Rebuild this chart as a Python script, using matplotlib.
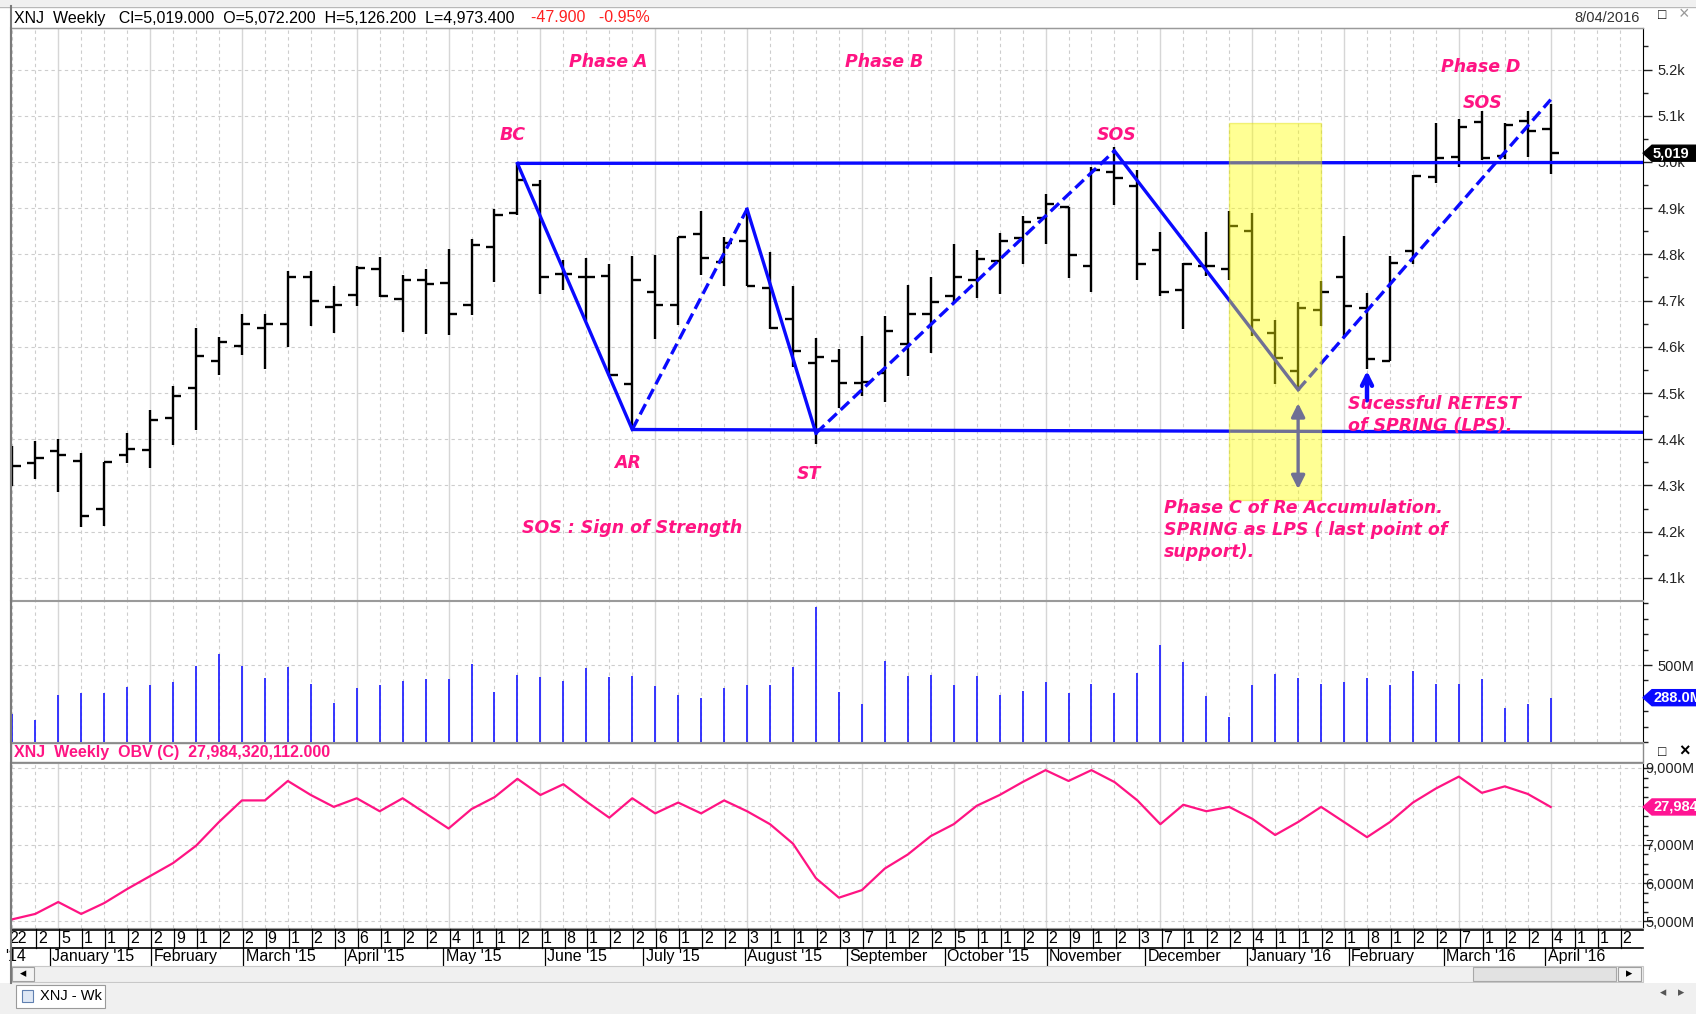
import numpy as np
import pandas as pd
import matplotlib
matplotlib.use("Agg")
import matplotlib.pyplot as plt
from matplotlib.patches import Rectangle, Polygon
from matplotlib.ticker import MultipleLocator, FixedLocator, FuncFormatter

plt.rcParams['font.family'] = ['Liberation Sans', 'DejaVu Sans']

W, H = 1696, 1014

# weekly bars of XNJ, first week starts 22 Dec 2014
week_start = "2014-12-22"
n_slots = 71   # weeks shown on the date axis

opens = [4360, 4348, 4374, 4353, 4248, 4365, 4376, 4445, 4511, 4570,
         4601, 4641, 4649, 4752, 4686, 4713, 4768, 4703, 4745, 4738,
         4691, 4815, 4889, 4950, 4758, 4751, 4754, 4520, 4719, 4691,
         4844, 4783, 4829, 4727, 4660, 4564, 4570, 4522, 4544, 4607,
         4672, 4711, 4745, 4785, 4835, 4878, 4902, 4775, 4979, 4949,
         4809, 4722, 4775, 4768, 4851, 4630, 4547, 4680, 4752, 4684,
         4569, 4808, 4968, 5010, 5086, 5012, 5088, 5072.2]
highs = [4385, 4397, 4400, 4371, 4350, 4414, 4463, 4515, 4641, 4621,
         4672, 4670, 4763, 4765, 4732, 4774, 4795, 4756, 4769, 4812,
         4833, 4898, 4997, 4961, 4788, 4793, 4780, 4797, 4799, 4837,
         4895, 4837, 4898, 4806, 4732, 4619, 4596, 4623, 4666, 4734,
         4751, 4822, 4810, 4846, 4883, 4930, 4902, 4990, 5033, 4983,
         4849, 4781, 4849, 4894, 4889, 4658, 4696, 4742, 4839, 4717,
         4797, 4972, 5085, 5094, 5110, 5085, 5110, 5126.2]
lows = [4299, 4313, 4286, 4211, 4212, 4349, 4338, 4387, 4420, 4539,
        4583, 4551, 4600, 4646, 4630, 4689, 4707, 4633, 4628, 4626,
        4668, 4740, 4886, 4715, 4722, 4655, 4536, 4421, 4616, 4648,
        4756, 4731, 4731, 4638, 4556, 4390, 4468, 4493, 4480, 4536,
        4587, 4694, 4705, 4715, 4780, 4823, 4749, 4718, 4907, 4745,
        4711, 4639, 4754, 4745, 4623, 4520, 4507, 4644, 4622, 4552,
        4569, 4780, 4955, 4990, 5004, 5006, 5010, 4973.4]
closes = [4342, 4360, 4365, 4234, 4350, 4378, 4441, 4493, 4581, 4611,
          4649, 4649, 4752, 4700, 4691, 4770, 4709, 4745, 4736, 4670,
          4820, 4886, 4961, 4752, 4758, 4751, 4538, 4745, 4691, 4837,
          4793, 4824, 4731, 4640, 4592, 4578, 4522, 4524, 4635, 4672,
          4696, 4752, 4790, 4828, 4871, 4909, 4799, 4983, 4966, 4780,
          4719, 4780, 4774, 4862, 4657, 4576, 4684, 4718, 4689, 4574,
          4781, 4970, 5008, 5076, 5009, 5080, 5066.9, 5019.0]

# weekly volume, millions
volume_m = [183, 141, 303, 317, 317, 359, 373, 387, 493, 570,
            493, 415, 486, 380, 253, 352, 373, 394, 408, 408,
            507, 324, 436, 422, 394, 479, 422, 429, 366, 303,
            289, 352, 373, 373, 486, 880, 324, 246, 528, 429,
            436, 373, 429, 303, 331, 387, 317, 380, 317, 451,
            627, 521, 296, 162, 373, 444, 415, 380, 387, 415,
            370, 460, 380, 380, 410, 218, 246, 288.0]

# on-balance volume, millions
obv_m = [25056, 25197, 25507, 25197, 25479, 25845, 26183, 26521, 26972, 27592,
         28155, 28155, 28662, 28296, 27986, 28211, 27873, 28211, 27817, 27423,
         27930, 28239, 28718, 28296, 28577, 28127, 27704, 28211, 27817, 28099,
         27817, 28155, 27873, 27535, 27028, 26127, 25620, 25817, 26380, 26746,
         27225, 27535, 28014, 28296, 28634, 28944, 28662, 28944, 28634, 28155,
         27535, 28042, 27873, 27986, 27676, 27254, 27592, 27986, 27592, 27197,
         27592, 28099, 28465, 28775, 28352, 28521, 28324, 27984.32]
obv_last = 27984320112.000

# Wyckoff sketch pivots (bar index, price)
pivot_x = [22, 27, 32, 35, 48, 56, 67]
pivot_y = [4997, 4421, 4898, 4413, 5024, 4507, 5135]
pivot_dashed = [False, True, False, True, False, True]
bc_level = [4997, 4999]
support_level = [4421, 4415]

month_labels = ["'14", "January '15", "February", "March '15", "April '15", "May '15",
                "June '15", "July '15", "August '15", "September", "October '15",
                "November", "December", "January '16", "February", "March '16", "April '16"]

weeks = pd.date_range(week_start, periods=n_slots, freq="W-MON")
month_starts = pd.date_range("2015-01-01", "2016-04-01", freq="MS")
x = np.arange(len(opens))

PINK = '#ff1483'
BLUE = '#0a0aff'

fig = plt.figure(figsize=(W / 100, H / 100), dpi=100)
fig.patch.set_facecolor('white')


def px_axes(x0, y0, x1, y1):
    return fig.add_axes([x0 / W, 1 - y1 / H, (x1 - x0) / W, (y1 - y0) / H])


def fig_rect(x0, y0, x1, y1, **kw):
    r = Rectangle((x0 / W, 1 - y1 / H), (x1 - x0) / W, (y1 - y0) / H,
                  transform=fig.transFigure, **kw)
    fig.add_artist(r)


def fig_text(xp, yp, s, **kw):
    fig.text(xp / W, 1 - yp / H, s, **kw)


def fig_line(xs, ys, **kw):
    fig.add_artist(plt.Line2D([v / W for v in xs], [1 - v / H for v in ys],
                              transform=fig.transFigure, **kw))


def value_box(ax, v, s, fc):
    ypx = H - ax.transData.transform((0, v))[1]
    pts = [(1643, ypx), (1652, ypx - 8), (1700, ypx - 8), (1700, ypx + 8), (1652, ypx + 8)]
    fig.add_artist(Polygon([(a / W, 1 - b / H) for a, b in pts], closed=True,
                           transform=fig.transFigure, fc=fc, ec=fc, zorder=10))
    fig_text(1653, ypx, s, color='white', fontsize=10.5, va='center', ha='left',
             fontweight='bold', zorder=11)


XL = (-0.057, 71.02)
month_first = [i for i in range(1, n_slots) if weeks[i].month != weeks[i - 1].month]


def vgrid(ax):
    for i in range(n_slots):
        if i in month_first:
            ax.axvline(i, color='#d6d6d6', lw=1.0, zorder=0)
        else:
            ax.axvline(i, color='#cdcdcd', lw=0.8, ls=(0, (3, 3)), zorder=0)


def style_panel(ax):
    ax.set_xlim(*XL)
    ax.set_xticks([])
    ax.yaxis.tick_right()
    for s in ['top', 'bottom']:
        ax.spines[s].set_color('#9a9a9a')
    ax.spines['left'].set_color('#7a7a7a')
    ax.spines['left'].set_linewidth(1.5)
    ax.spines['right'].set_color('black')
    ax.tick_params(axis='y', which='major', length=6.5, width=1, pad=4, labelsize=10.5, colors='#222222')
    ax.tick_params(axis='y', which='minor', length=3.5, width=1, colors='#222222')


# ---------- price panel ----------
ax = px_axes(11, 28, 1643, 600)
style_panel(ax)
ax.set_ylim(4052, 5290)
vgrid(ax)
for lv in range(4100, 5300, 100):
    ax.axhline(lv, color='#cdcdcd', lw=0.8, ls=(0, (3, 3)), zorder=0)
ax.yaxis.set_major_locator(MultipleLocator(100))
ax.yaxis.set_minor_locator(MultipleLocator(50))
ax.yaxis.set_major_formatter(FuncFormatter(lambda v, p: f"{v / 1000:.1f}k"))

ax.vlines(x, lows, highs, color='black', lw=1.7, zorder=3)
ax.hlines(opens, x - 0.36, x, color='black', lw=1.7, zorder=3)
ax.hlines(closes, x, x + 0.36, color='black', lw=1.7, zorder=3)

ax.plot([pivot_x[0], XL[1]], bc_level, color=BLUE, lw=2.4, zorder=4, solid_capstyle='butt')
ax.plot([pivot_x[1], XL[1]], support_level, color=BLUE, lw=2.4, zorder=4, solid_capstyle='butt')
for k, dashed in enumerate(pivot_dashed):
    ax.plot(pivot_x[k:k + 2], pivot_y[k:k + 2], color=BLUE, lw=2.4, zorder=4,
            ls=(0, (3.5, 1.6)) if dashed else '-')

ax.annotate('', xy=(56, 4292), xytext=(56, 4478),
            arrowprops=dict(arrowstyle='<|-|>', color=BLUE, lw=2.4, mutation_scale=20,
                            shrinkA=0, shrinkB=0), zorder=4)
ax.annotate('', xy=(59, 4548), xytext=(59, 4484),
            arrowprops=dict(arrowstyle='->', color=BLUE, lw=3.2, mutation_scale=18,
                            shrinkA=0, shrinkB=0), zorder=4)

ax.add_patch(Rectangle((53.0, 4268), 4.0, 816, fc='#ffff00', alpha=0.42,
                       ec='#dede00', lw=1, zorder=5))

tk = dict(color=PINK, fontsize=12.5, fontweight='bold', style='italic',
          family=['DejaVu Sans'], zorder=7)
ax.text(25.94, 5217, "Phase A", ha='center', va='center', **tk)
ax.text(37.95, 5217, "Phase B", ha='center', va='center', **tk)
ax.text(63.96, 5206, "Phase D", ha='center', va='center', **tk)
ax.text(21.8, 5058, "BC", ha='center', va='center', **tk)
ax.text(48.08, 5058, "SOS", ha='center', va='center', **tk)
ax.text(64.05, 5128, "SOS", ha='center', va='center', **tk)
ax.text(26.8, 4349, "AR", ha='center', va='center', **tk)
ax.text(34.7, 4325, "ST", ha='center', va='center', **tk)
ax.text(26.98, 4208, "SOS : Sign of Strength", ha='center', va='center', **tk)
ax.text(50.15, 4271, "Phase C of Re Accumulation.\nSPRING as LPS ( last point of\nsupport).",
        ha='left', va='top', linespacing=1.3, **tk)
ax.text(58.16, 4496, "Sucessful RETEST\nof SPRING (LPS).", ha='left', va='top',
        linespacing=1.3, **tk)

# ---------- volume panel ----------
axv = px_axes(11, 601, 1643, 742)
style_panel(axv)
axv.set_ylim(0, 916)
vgrid(axv)
axv.axhline(500, color='#cdcdcd', lw=0.8, ls=(0, (3, 3)), zorder=0)
axv.vlines(x, 0, volume_m, color='#2626ff', lw=1.3, zorder=3)
axv.yaxis.set_major_locator(FixedLocator([500]))
axv.yaxis.set_minor_locator(MultipleLocator(100))
axv.yaxis.set_major_formatter(FuncFormatter(lambda v, p: f"{v:.0f}M"))

# ---------- OBV panel ----------
axo = px_axes(11, 763, 1643, 928)
style_panel(axo)
axo.set_ylim(24830, 29130)
vgrid(axo)
for lv in range(25000, 30000, 1000):
    axo.axhline(lv, color='#cdcdcd', lw=0.8, ls=(0, (3, 3)), zorder=0)
axo.plot(x, obv_m, color=PINK, lw=1.6, zorder=3)
axo.yaxis.set_major_locator(FixedLocator([25000, 26000, 27000, 29000]))
axo.yaxis.set_minor_locator(MultipleLocator(250))
axo.yaxis.set_major_formatter(FuncFormatter(lambda v, p: f"{int(round(v)) % 10000:,}M"))
axo.tick_params(axis='y', which='major', pad=-5)

# OBV header strip
fig_rect(11, 743, 1643, 762, fc='white', ec='#8a8a8a', lw=1)
fig_text(14, 753, f"XNJ  Weekly  OBV (C)  {obv_last:,.3f}", color=PINK, fontsize=11.5,
         fontweight='bold', va='center')
fig_text(1662, 752, "□", fontsize=10, va='center', ha='center')
fig_text(1684, 752, "×", fontsize=13, va='center', ha='center', fontweight='bold')

# value boxes on the right axis
value_box(ax, closes[-1], f"{closes[-1]:,.0f}", 'black')
value_box(axv, volume_m[-1], f"{volume_m[-1]:.1f}M", '#0a0aff')
value_box(axo, obv_m[-1], f"{obv_m[-1]:,.0f}", '#ff1493')

# ---------- date axis ----------
axd = px_axes(11, 929, 1643, 966)
axd.set_xlim(*XL)
axd.set_ylim(0, 2)
axd.axis('off')
fig_line([11, 1643], [929.5, 929.5], color='black', lw=1.2)
fig_line([11, 1643], [947.5, 947.5], color='black', lw=1.2)
for i, d in enumerate(weeks):
    lab = str(d.day) if i == 0 else str(d.day)[0]
    if i > 0:
        axd.plot([i + 0.05, i + 0.05], [1, 2], color='black', lw=0.9, clip_on=False)
    axd.text(i + 0.12 if i > 0 else -0.15, 1.5, lab, fontsize=11.5, va='center', ha='left',
             clip_on=False)
axd.text(-0.32, 0.5, month_labels[0], fontsize=11.5, va='center', ha='left', clip_on=False)
for d, lab in zip(month_starts, month_labels[1:]):
    xm = (d - weeks[0]).days / 7 + 0.2
    axd.plot([xm, xm], [0, 1], color='black', lw=0.9, clip_on=False)
    axd.text(xm + 0.1, 0.5, lab, fontsize=11.5, va='center', ha='left', clip_on=False)

# ---------- window chrome ----------
fig_rect(0, 0, W, 6, fc='#f0f0f0', ec='none')
fig_line([0, W], [6.5, 6.5], color='#b8b8b8', lw=1)
fig_line([11, 1643], [27.5, 27.5], color='#9a9a9a', lw=1)
fig_line([10.5, 10.5], [6, 983], color='#7a7a7a', lw=1.5)
fig_text(14, 18, f"XNJ  Weekly   Cl={closes[-1]:,.3f}  O={opens[-1]:,.3f}  "
                 f"H={highs[-1]:,.3f}  L={lows[-1]:,.3f}",
         fontsize=11.5, va='center', color='black')
chg = closes[-1] - closes[-2]
fig_text(531, 18, f"{chg:.3f}   {chg / closes[-2] * 100:.2f}%", fontsize=11.5,
         va='center', color='#ff2020')
fig_text(1640, 18, "8/04/2016", fontsize=10.5, va='center', ha='right', color='#333333')
fig_text(1662, 15, "□", fontsize=10, va='center', ha='center')
fig_text(1684, 15, "×", fontsize=13, va='center', ha='center', color='#999999')

# scroll bar
fig_rect(11, 966, 1643, 982, fc='#f0f0f0', ec='#c8c8c8', lw=0.8)
fig_rect(12, 967, 34, 981, fc='#f4f4f4', ec='#a0a0a0', lw=0.8)
fig_text(23, 974, "◂", fontsize=9, va='center', ha='center', family=['DejaVu Sans'])
fig_rect(1473, 967, 1616, 981, fc='#e2e2e2', ec='#a8a8a8', lw=0.8)
fig_rect(1618, 967, 1641, 981, fc='#f4f4f4', ec='#a0a0a0', lw=0.8)
fig_text(1629, 974, "▸", fontsize=9, va='center', ha='center', family=['DejaVu Sans'])

# tab strip
fig_rect(0, 983, W, H, fc='#f0f0f0', ec='none')
fig_rect(16, 985, 105, 1008, fc='white', ec='#9a9a9a', lw=0.8)
fig_rect(22, 990, 33, 1002, fc='#dfe8f5', ec='#6080b0', lw=0.8)
fig_text(40, 996, "XNJ - Wk", fontsize=10.5, va='center', ha='left')
fig_text(1663, 993, "◂", fontsize=9, va='center', ha='center', color='#555555',
         family=['DejaVu Sans'])
fig_text(1681, 993, "▸", fontsize=9, va='center', ha='center', color='#555555',
         family=['DejaVu Sans'])

fig.savefig("out.png", dpi=100)
